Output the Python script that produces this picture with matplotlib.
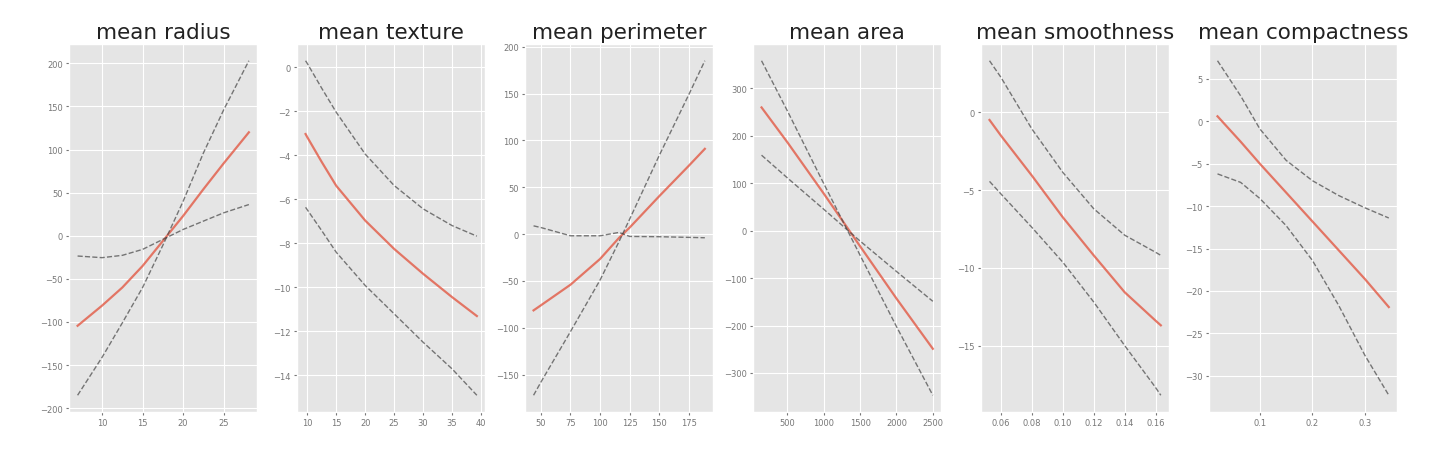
import matplotlib
matplotlib.use("Agg")
import matplotlib.pyplot as plt

plt.style.use("ggplot")

titles = ["mean radius", "mean texture", "mean perimeter", "mean area",
          "mean smoothness", "mean compactness"]

# mean radius
radius_x = [6.98, 10, 12.5, 15, 17.5, 20, 22.5, 25, 28.11]
radius_pdep = [-104.4, -81, -60, -35, -6, 23, 54, 84, 120]
radius_ci_a = [-185, -141, -101, -60, -11, 40, 96, 146, 203]
radius_ci_b = [-23.5, -25.4, -22.7, -15.8, -4.2, 7.3, 17, 26.6, 36.2]

# mean texture
texture_x = [9.71, 10, 12.5, 15, 20, 25, 30, 35, 39.28]
texture_pdep = [-3.03, -3.17, -4.3, -5.38, -6.96, -8.25, -9.38, -10.44, -11.3]
texture_ci_a = [0.3, 0.18, -0.95, -2.04, -3.94, -5.37, -6.43, -7.19, -7.67]
texture_ci_b = [-6.36, -6.47, -7.42, -8.4, -9.91, -11.2, -12.49, -13.7, -14.9]

# mean perimeter
perimeter_x = [43.79, 50, 75, 100, 116, 125, 150, 175, 188.5]
perimeter_pdep = [-81.4, -76, -54, -26.5, -4, 7, 40.5, 73, 91]
perimeter_ci_a = [-172, -158, -104, -49, -8, 16, 84, 149, 185]
perimeter_ci_b = [8.8, 7, -1.8, -1.8, 1.8, -2.5, -2.8, -3.5, -3.9]

# mean area
area_x = [143.5, 500, 1000, 1500, 2000, 2501]
area_pdep = [259.6, 186, 78, -33, -143, -249]
area_ci_a = [358, 252, 99, -52, -202, -347]
area_ci_b = [159, 111, 45, -22, -86, -149]

# mean smoothness
smooth_x = [0.0526, 0.06, 0.08, 0.10, 0.12, 0.14, 0.16, 0.1634]
smooth_pdep = [-0.49, -1.5, -4.07, -6.75, -9.2, -11.57, -13.4, -13.7]
smooth_ci_a = [3.32, 2.25, -1.07, -3.86, -6.2, -7.9, -9.0, -9.2]
smooth_ci_b = [-4.44, -5.25, -7.4, -9.64, -12.2, -15.0, -17.7, -18.2]

# mean compactness
compact_x = [0.0194, 0.0634, 0.1, 0.15, 0.2, 0.25, 0.3, 0.3454]
compact_pdep = [0.59, -2.4, -5.0, -8.4, -11.8, -15.2, -18.6, -21.9]
compact_ci_a = [7.14, 3.0, -0.9, -4.6, -7.0, -8.75, -10.2, -11.4]
compact_ci_b = [-6.2, -7.2, -9.1, -12.3, -16.4, -21.7, -27.6, -32.3]

panels = [
    (radius_x, radius_pdep, radius_ci_a, radius_ci_b),
    (texture_x, texture_pdep, texture_ci_a, texture_ci_b),
    (perimeter_x, perimeter_pdep, perimeter_ci_a, perimeter_ci_b),
    (area_x, area_pdep, area_ci_a, area_ci_b),
    (smooth_x, smooth_pdep, smooth_ci_a, smooth_ci_b),
    (compact_x, compact_pdep, compact_ci_a, compact_ci_b),
]

fig, axes = plt.subplots(1, 6, figsize=(14.44, 4.52), dpi=100)
fig.subplots_adjust(left=0.0478, right=0.9677, bottom=0.0863, top=0.9004,
                    wspace=0.21)

for ax, title, (x, pdep, ci_a, ci_b) in zip(axes, titles, panels):
    ax.plot(x, pdep, color="#E24A33", lw=1.6, alpha=0.72)
    ax.plot(x, ci_a, color="#444444", ls="--", lw=1.0, alpha=0.7)
    ax.plot(x, ci_b, color="#444444", ls="--", lw=1.0, alpha=0.7)
    ax.set_title(title, fontsize=15.5, color="#222222", pad=4)
    ax.tick_params(labelsize=6, length=2.5, pad=2, colors="#777777")

fig.savefig("out.png", dpi=100)
